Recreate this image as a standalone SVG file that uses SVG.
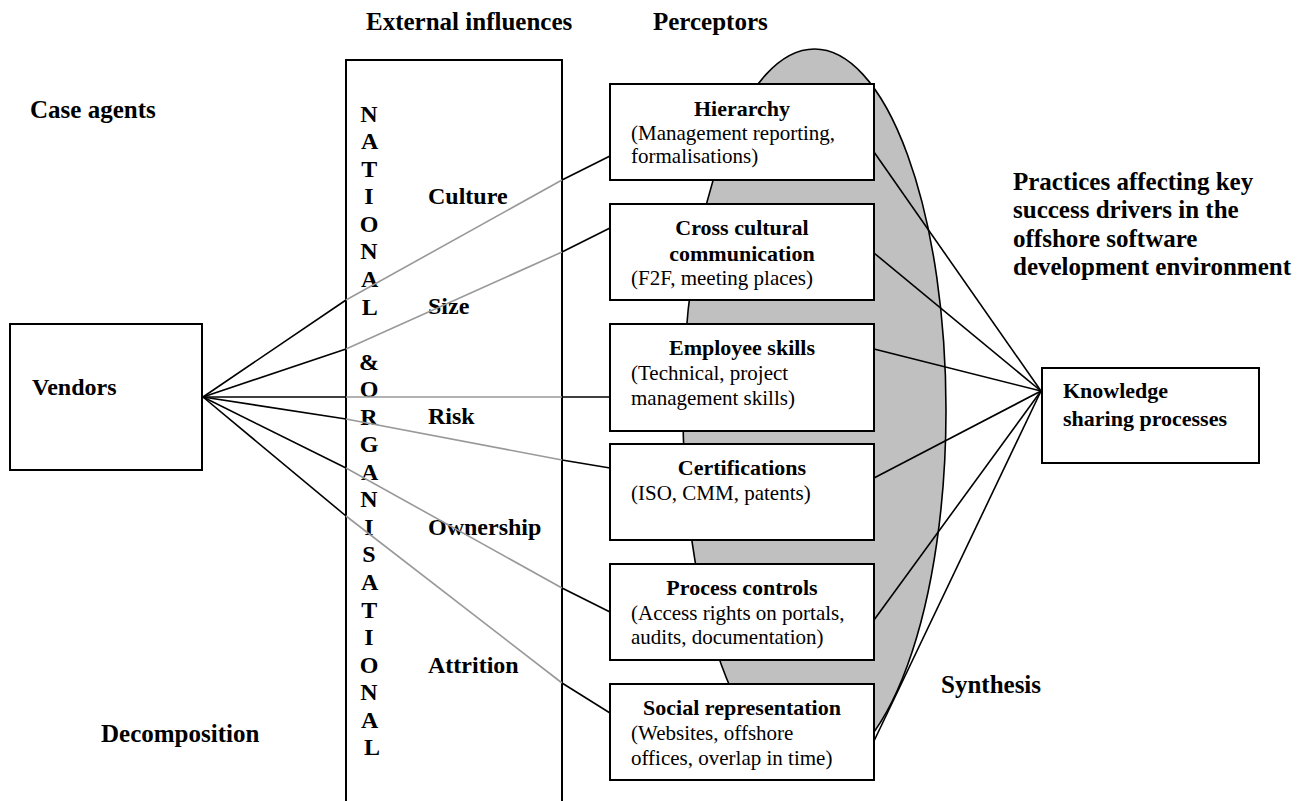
<svg xmlns="http://www.w3.org/2000/svg" width="1314" height="801" viewBox="0 0 1314 801">
  <style>
    text { font-family: "Liberation Serif", "Times New Roman", serif; fill: #000; }
    .hd { font-size: 25px; font-weight: bold; }
    .lb { font-size: 24px; font-weight: bold; }
    .tt { font-size: 22px; font-weight: bold; text-anchor: middle; }
    .sb { font-size: 21px; }
    .box { fill: #fff; stroke: #000; stroke-width: 2; }
    .blk { fill: none; stroke: #000; stroke-width: 1.6; }
    .gry { fill: none; stroke: #999; stroke-width: 1.6; }
  </style>

  <!-- synthesis backdrop -->
  <ellipse id="synthesis-area" cx="814.5" cy="410" rx="131.5" ry="361" fill="#c0c0c0" stroke="#000" stroke-width="1.6"/>

  <!-- column headings and side labels -->
  <g id="headings">
    <text class="hd" x="366" y="30">External influences</text>
    <text class="hd" x="653" y="30">Perceptors</text>
    <text class="hd" x="30" y="118">Case agents</text>
    <text class="hd" x="101" y="742">Decomposition</text>
    <text class="hd" x="941" y="693">Synthesis</text>
    <text class="hd" x="1013" y="190">Practices affecting key</text>
    <text class="hd" x="1013" y="218">success drivers in the</text>
    <text class="hd" x="1013" y="247">offshore software</text>
    <text class="hd" x="1013" y="275">development environment</text>
  </g>

  <!-- external influences column (open at the bottom) -->
  <g id="external-influences">
    <path d="M346,801 V60 H562 V801" fill="none" stroke="#000" stroke-width="2"/>
    <text class="lb" text-anchor="middle">
      <tspan x="372" y="121.7">N</tspan>
      <tspan x="372" dy="27.55">A</tspan>
      <tspan x="372" dy="27.55">T</tspan>
      <tspan x="372" dy="27.55">I</tspan>
      <tspan x="372" dy="27.55">O</tspan>
      <tspan x="372" dy="27.55">N</tspan>
      <tspan x="372" dy="27.55">A</tspan>
      <tspan x="372" dy="27.55">L</tspan>
      <tspan x="372" dy="55.1">&amp;</tspan>
      <tspan x="372" dy="27.55">O</tspan>
      <tspan x="372" dy="27.55">R</tspan>
      <tspan x="372" dy="27.55">G</tspan>
      <tspan x="372" dy="27.55">A</tspan>
      <tspan x="372" dy="27.55">N</tspan>
      <tspan x="372" dy="27.55">I</tspan>
      <tspan x="372" dy="27.55">S</tspan>
      <tspan x="372" dy="27.55">A</tspan>
      <tspan x="372" dy="27.55">T</tspan>
      <tspan x="372" dy="27.55">I</tspan>
      <tspan x="372" dy="27.55">O</tspan>
      <tspan x="372" dy="27.55">N</tspan>
      <tspan x="372" dy="27.55">A</tspan>
      <tspan x="372" dy="27.55">L</tspan>
    </text>
    <text class="lb" x="428" y="204">Culture</text>
    <text class="lb" x="428" y="314">Size</text>
    <text class="lb" x="428" y="424">Risk</text>
    <text class="lb" x="428" y="535">Ownership</text>
    <text class="lb" x="428" y="673">Attrition</text>
  </g>

  <!-- connectors: black outside the column, grey across it -->
  <g id="connectors">
    <g id="vendor-links">
      <polyline class="blk" points="203,397 346,300"/><polyline class="gry" points="346,300 562,180"/><polyline class="blk" points="562,180 610,156"/>
      <polyline class="blk" points="203,397 346,349"/><polyline class="gry" points="346,349 562,252"/><polyline class="blk" points="562,252 610,228"/>
      <polyline class="blk" points="203,397 346,397"/><polyline class="gry" points="346,397 562,397"/><polyline class="blk" points="562,397 610,397"/>
      <polyline class="blk" points="203,397 346,419"/><polyline class="gry" points="346,419 562,460"/><polyline class="blk" points="562,460 610,468"/>
      <polyline class="blk" points="203,397 346,468"/><polyline class="gry" points="346,468 562,588"/><polyline class="blk" points="562,588 610,612"/>
      <polyline class="blk" points="203,397 346,516"/><polyline class="gry" points="346,516 562,683"/><polyline class="blk" points="562,683 610,713"/>
    </g>
    <g id="knowledge-links">
      <line class="blk" x1="874" y1="152" x2="1041" y2="391"/>
      <line class="blk" x1="874" y1="253" x2="1041" y2="391"/>
      <line class="blk" x1="874" y1="349" x2="1041" y2="391"/>
      <line class="blk" x1="874" y1="478" x2="1041" y2="391"/>
      <line class="blk" x1="874" y1="620" x2="1041" y2="391"/>
      <line class="blk" x1="874" y1="741" x2="1041" y2="391"/>
    </g>
  </g>

  <g id="vendors">
    <rect class="box" x="10" y="324" width="192" height="146"/>
    <text class="lb" x="32" y="395">Vendors</text>
  </g>

  <g id="hierarchy">
    <rect class="box" x="610" y="84" width="264" height="96"/>
    <text class="tt" x="742" y="116">Hierarchy</text>
    <text class="sb" x="631" y="140">(Management reporting,</text>
    <text class="sb" x="631" y="163">formalisations)</text>
  </g>

  <g id="cross-cultural">
    <rect class="box" x="610" y="204" width="264" height="96"/>
    <text class="tt" x="742" y="235">Cross cultural</text>
    <text class="tt" x="742" y="261">communication</text>
    <text class="sb" x="631" y="285">(F2F, meeting places)</text>
  </g>

  <g id="employee-skills">
    <rect class="box" x="610" y="324" width="264" height="107"/>
    <text class="tt" x="742" y="355">Employee skills</text>
    <text class="sb" x="631" y="380">(Technical, project</text>
    <text class="sb" x="631" y="405">management skills)</text>
  </g>

  <g id="certifications">
    <rect class="box" x="610" y="444" width="264" height="96"/>
    <text class="tt" x="742" y="475">Certifications</text>
    <text class="sb" x="631" y="500">(ISO, CMM, patents)</text>
  </g>

  <g id="process-controls">
    <rect class="box" x="610" y="564" width="264" height="96"/>
    <text class="tt" x="742" y="595">Process controls</text>
    <text class="sb" x="631" y="620">(Access rights on portals,</text>
    <text class="sb" x="631" y="644">audits, documentation)</text>
  </g>

  <g id="social-representation">
    <rect class="box" x="610" y="684" width="264" height="96"/>
    <text class="tt" x="742" y="715">Social representation</text>
    <text class="sb" x="631" y="740">(Websites, offshore</text>
    <text class="sb" x="631" y="765">offices, overlap in time)</text>
  </g>

  <g id="knowledge-sharing">
    <rect class="box" x="1042" y="368" width="217" height="95"/>
    <text class="lb" x="1063" y="398" style="font-size:22px">Knowledge</text>
    <text class="lb" x="1063" y="426" style="font-size:22px">sharing processes</text>
  </g>
</svg>
